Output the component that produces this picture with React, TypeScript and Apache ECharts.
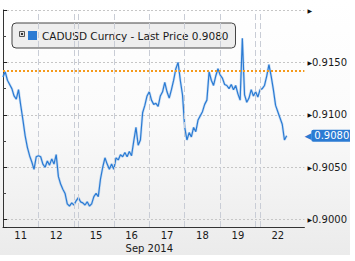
import React, { useEffect, useRef } from "react";
import * as echarts from "echarts";

// Trading hours since start of window (each weekday = 24h, Sunday session = 3h)
const SAMPLE_STEP_HOURS = 1.5;
const prices = [
  0.9136, 0.9141, 0.9133, 0.9129, 0.9125, 0.9118, 0.9115, 0.9124, 0.9109, 0.9095,
  0.9080, 0.9069, 0.9061, 0.9055, 0.9048, 0.9060, 0.9061, 0.9060, 0.9053, 0.9050,
  0.9056, 0.9052, 0.9058, 0.9053, 0.9062, 0.9041, 0.9034, 0.9029, 0.9025, 0.9015,
  0.9013, 0.9016, 0.9014, 0.9018, 0.9021, 0.9017, 0.9016, 0.9014, 0.9017, 0.9013,
  0.9015, 0.9022, 0.9025, 0.9022, 0.9039, 0.9050, 0.9059, 0.9053, 0.9048, 0.9053,
  0.9048, 0.9059, 0.9057, 0.9062, 0.9060, 0.9064, 0.9060, 0.9065, 0.9061, 0.9075,
  0.9088, 0.9071, 0.9076, 0.9102, 0.9109, 0.9118, 0.9122, 0.9114, 0.9110, 0.9111,
  0.9108, 0.9118, 0.9122, 0.9131, 0.9122, 0.9116, 0.9124, 0.9133, 0.9144, 0.9150,
  0.9133, 0.9119, 0.9088, 0.9076, 0.9083, 0.9079, 0.9088, 0.9084, 0.9095, 0.9099,
  0.9103, 0.9110, 0.9114, 0.9141, 0.9133, 0.9128, 0.9137, 0.9144, 0.9138, 0.9135,
  0.9129, 0.9128, 0.9125, 0.9129, 0.9124, 0.9128, 0.9120, 0.9114, 0.9173, 0.9119,
  0.9112, 0.9116, 0.9124, 0.9118, 0.9122, 0.9117, 0.9124, 0.9125, 0.9128, 0.9137,
  0.9148, 0.9137, 0.9124, 0.9109, 0.9103, 0.9097, 0.9091, 0.9076, 0.9080,
];
const times = prices.map((_, i) => i * SAMPLE_STEP_HOURS);

const dayLabels = ["11", "12", "15", "16", "17", "18", "19", "22"];
const dayCenters = [12, 36, 63, 87, 111, 135, 159, 186];
const dayBounds = [24, 48, 51, 75, 99, 123, 147, 171, 174];
const monthLabel = "Sep 2014";
const monthLabelAt = 99;
const referencePrice = 0.91425;
const lastPrice = 0.908;
const seriesName = "CADUSD Curncy - Last Price 0.9080";

const FONT = "DejaVu Sans";
const BLUE = "#2b7bd3";

export default function App() {
  const ref = useRef<HTMLDivElement>(null);
  useEffect(() => {
    if (!ref.current) return;
    const chart = echarts.init(ref.current, null, { renderer: "svg" });
    const data = times.map((t, i) => [t, prices[i]]);
    chart.setOption({
      animation: false,
      backgroundColor: "transparent",
      textStyle: { fontFamily: FONT },
      grid: { left: 3, top: 10, right: 45, bottom: 27, containLabel: false },
      legend: {
        left: 12,
        top: 23,
        data: [seriesName],
        icon: "rect",
        itemWidth: 9,
        itemHeight: 9,
        padding: [6, 7, 6, 16],
        backgroundColor: "#eeeeee",
        borderColor: "#444",
        borderWidth: 1,
        borderRadius: 4,
        textStyle: { fontFamily: FONT, fontSize: 10.5, color: "#1a1a1a", lineHeight: 13 },
      },
      graphic: [
        {
          type: "rect",
          z: 100,
          shape: { x: 19.5, y: 31.5, width: 5, height: 5 },
          style: { fill: "#e0e0e0", stroke: "#555", lineWidth: 1 },
        },
        {
          type: "rect",
          z: 101,
          shape: { x: 21, y: 33, width: 2, height: 2 },
          style: { fill: "#333" },
        },
      ],
      xAxis: {
        type: "value",
        min: 0,
        max: 204,
        interval: 3,
        axisLine: { show: true, lineStyle: { color: "#333", width: 1 } },
        axisTick: { show: false },
        splitLine: { show: false },
        axisLabel: {
          margin: 2,
          fontFamily: FONT,
          fontSize: 10,
          lineHeight: 13,
          color: "#1a1a1a",
          formatter: (v: number) => {
            const k = dayCenters.indexOf(v);
            if (k >= 0) return dayLabels[k];
            if (v === monthLabelAt) return "\n" + monthLabel;
            return "";
          },
        },
      },
      yAxis: {
        type: "value",
        position: "right",
        min: 0.8993,
        max: 0.92,
        splitNumber: 5,
        axisLine: { show: true, lineStyle: { color: "#333", width: 1 } },
        axisTick: { show: true, length: 4, lineStyle: { color: "#222" } },
        minorTick: { show: true, splitNumber: 2, length: 3, lineStyle: { color: "#444" } },
        splitLine: { show: true, lineStyle: { color: "#c6c6c6", type: [2, 2], width: 1 } },
        axisLabel: {
          margin: 3,
          fontFamily: FONT,
          fontSize: 10,
          color: "#1a1a1a",
          formatter: (v: number) => {
            const m = v * 200;
            if (Math.abs(m - Math.round(m)) > 1e-6) return "";
            if (v >= 0.92 - 1e-9) return "{t|▶}";
            return "{t|▶}{v|" + v.toFixed(4) + "}";
          },
          rich: {
            t: { fontSize: 6, color: "#111", fontFamily: FONT },
            v: { fontSize: 10, color: "#1a1a1a", fontFamily: FONT },
          },
        },
      },
      series: [
        {
          name: "halo",
          type: "line",
          data,
          showSymbol: false,
          silent: true,
          legendHoverLink: false,
          lineStyle: { color: "#8fbbec", width: 2.6, opacity: 0.45 },
          itemStyle: { color: "#8fbbec" },
          z: 1,
        },
        {
          name: seriesName,
          type: "line",
          data,
          showSymbol: false,
          color: BLUE,
          z: 2,
          lineStyle: { color: BLUE, width: 1.2 },
          itemStyle: { color: BLUE },
          markLine: {
            silent: true,
            precision: 6,
            symbol: ["none", "none"],
            label: { show: false },
            data: [
              ...dayBounds.map((b) => ({
                xAxis: b,
                lineStyle: { color: "#c9cdd6", type: [6, 3], width: 1 },
              })),
              {
                yAxis: referencePrice,
                lineStyle: { color: "#f59a1b", type: "dotted", width: 2 },
              },
              {
                yAxis: lastPrice,
                lineStyle: { color: "rgba(0,0,0,0)", width: 1 },
                label: {
                  show: true,
                  position: "end",
                  distance: 0,
                  formatter: "{a|◀}{b|" + lastPrice.toFixed(4) + "}",
                  rich: {
                    a: { fontSize: 9, color: BLUE, fontFamily: FONT },
                    b: {
                      fontSize: 10,
                      color: "#ffffff",
                      backgroundColor: BLUE,
                      borderRadius: 2,
                      padding: [1, 3, 1, 3],
                      fontFamily: FONT,
                    },
                  },
                },
              },
            ],
          },
        },
      ],
    });
    return () => chart.dispose();
  }, []);

  return (
    <div style={{ position: "fixed", left: 0, top: 0, width: 355, height: 261, background: "#ffffff" }}>
      <div
        ref={ref}
        style={{
          width: 350,
          height: 255,
          background: "linear-gradient(to bottom, #ffffff 0%, #fbfbfb 45%, #ebebeb 100%)",
        }}
      />
    </div>
  );
}
